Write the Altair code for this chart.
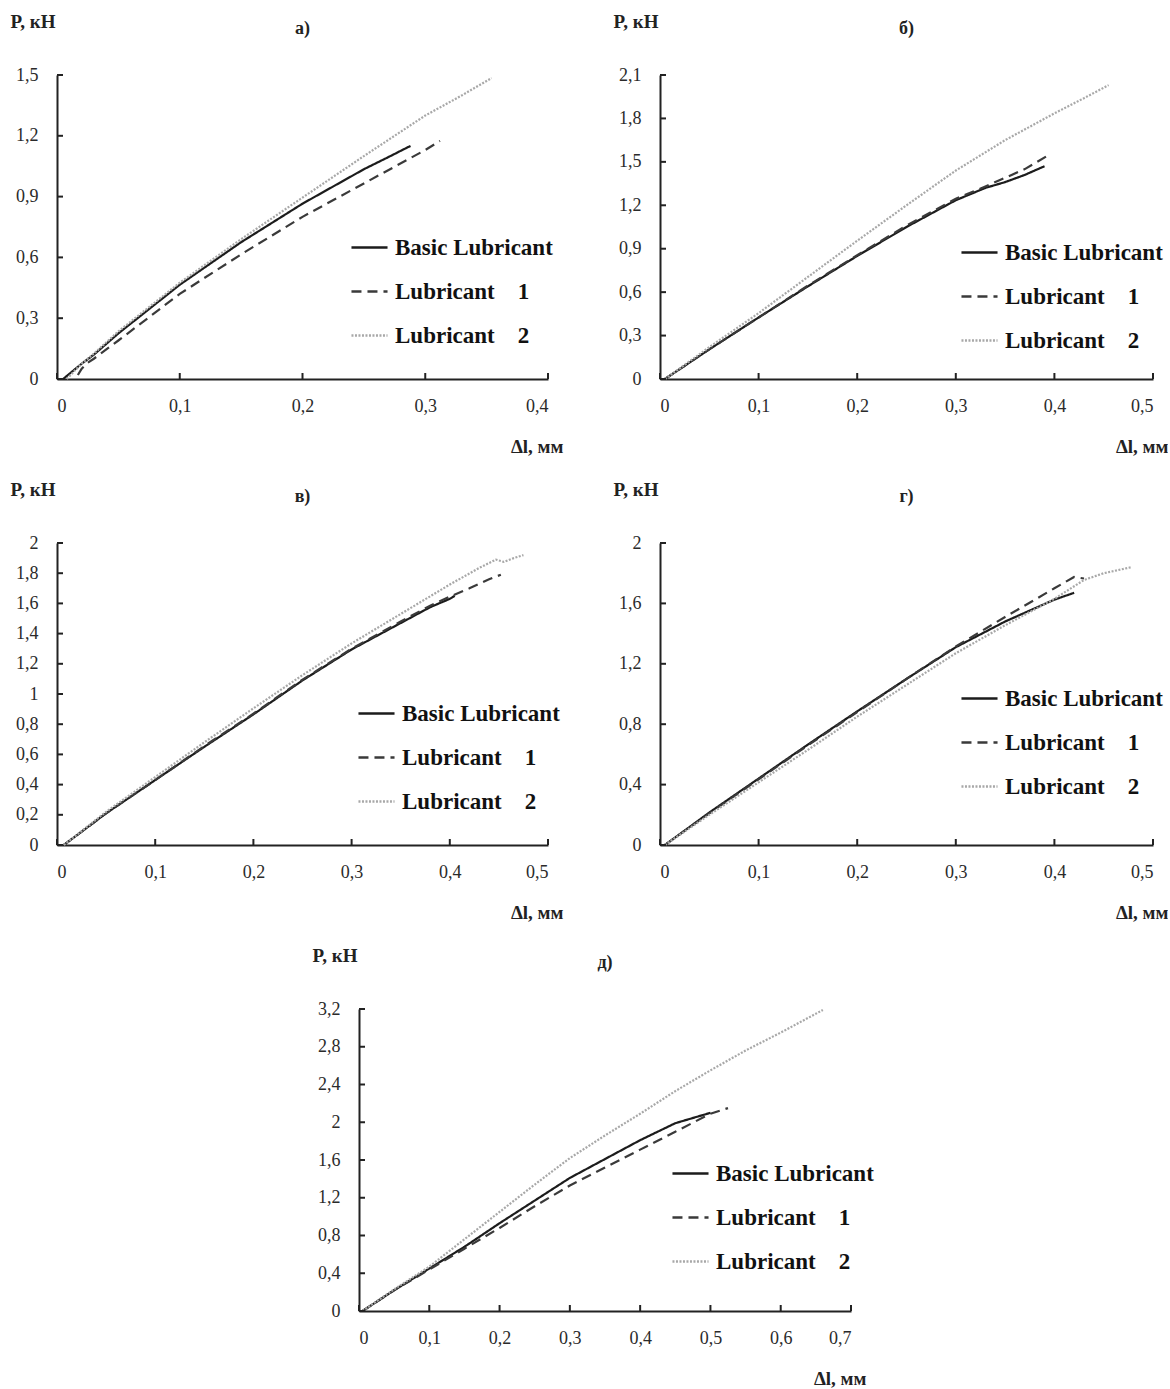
import altair as alt
import pandas as pd

NB = "\u00a0"
SERIES = ["Basic Lubricant", "Lubricant" + NB * 4 + "1", "Lubricant" + NB * 4 + "2"]
PANEL_TITLES = ["а)", "б)", "в)", "г)", "д)"]
Y_TITLE = "P, кН"
X_TITLE = "Δl, мм"

# ---- panel а)
A_BASIC_X = [0.005, 0.012, 0.02, 0.03, 0.05, 0.1, 0.15, 0.2, 0.25, 0.27, 0.283, 0.288]
A_BASIC_Y = [0.0, 0.035, 0.075, 0.12, 0.225, 0.465, 0.675, 0.865, 1.035, 1.095, 1.135, 1.15]
A_L1_X = [0.017, 0.02, 0.025, 0.03, 0.05, 0.1, 0.15, 0.2, 0.25, 0.3, 0.312]
A_L1_Y = [0.02, 0.05, 0.08, 0.1, 0.19, 0.42, 0.615, 0.8, 0.965, 1.13, 1.175]
A_L2_X = [0.008, 0.015, 0.02, 0.03, 0.05, 0.1, 0.15, 0.2, 0.25, 0.3, 0.33, 0.354]
A_L2_Y = [0.0, 0.045, 0.075, 0.125, 0.235, 0.475, 0.69, 0.895, 1.1, 1.3, 1.4, 1.485]
A_XTICKS = [0, 0.1, 0.2, 0.3, 0.4]
A_YTICKS = [0, 0.3, 0.6, 0.9, 1.2, 1.5]

# ---- panel б)
B_BASIC_X = [0.005, 0.05, 0.1, 0.15, 0.2, 0.25, 0.3, 0.33, 0.35, 0.37, 0.39]
B_BASIC_Y = [0.0, 0.205, 0.425, 0.64, 0.85, 1.05, 1.235, 1.32, 1.36, 1.41, 1.47]
B_L1_X = [0.005, 0.05, 0.1, 0.15, 0.2, 0.25, 0.3, 0.33, 0.35, 0.37, 0.395]
B_L1_Y = [0.0, 0.205, 0.425, 0.645, 0.855, 1.06, 1.245, 1.33, 1.39, 1.45, 1.55]
B_L2_X = [0.005, 0.05, 0.1, 0.15, 0.2, 0.25, 0.3, 0.35, 0.4, 0.43, 0.455]
B_L2_Y = [0.0, 0.22, 0.455, 0.705, 0.955, 1.2, 1.44, 1.65, 1.835, 1.94, 2.03]
B_XTICKS = [0, 0.1, 0.2, 0.3, 0.4, 0.5]
B_YTICKS = [0, 0.3, 0.6, 0.9, 1.2, 1.5, 1.8, 2.1]

# ---- panel в)
C_BASIC_X = [0.007, 0.05, 0.1, 0.15, 0.2, 0.25, 0.3, 0.35, 0.38, 0.4, 0.405]
C_BASIC_Y = [0.0, 0.21, 0.43, 0.65, 0.865, 1.09, 1.295, 1.47, 1.575, 1.63, 1.65]
C_L1_X = [0.007, 0.05, 0.1, 0.15, 0.2, 0.25, 0.3, 0.35, 0.38, 0.4, 0.42, 0.44, 0.452]
C_L1_Y = [0.0, 0.21, 0.43, 0.655, 0.87, 1.095, 1.3, 1.48, 1.585, 1.645, 1.7, 1.76, 1.79]
C_L2_X = [0.007, 0.05, 0.1, 0.15, 0.2, 0.25, 0.3, 0.35, 0.4, 0.43, 0.447, 0.455, 0.465, 0.475]
C_L2_Y = [0.0, 0.22, 0.45, 0.68, 0.905, 1.125, 1.335, 1.53, 1.725, 1.835, 1.89, 1.875, 1.9, 1.92]
C_XTICKS = [0, 0.1, 0.2, 0.3, 0.4, 0.5]
C_YTICKS = [0, 0.2, 0.4, 0.6, 0.8, 1, 1.2, 1.4, 1.6, 1.8, 2]

# ---- panel г)
D_BASIC_X = [0.005, 0.05, 0.1, 0.15, 0.2, 0.25, 0.3, 0.35, 0.4, 0.42]
D_BASIC_Y = [0.0, 0.215, 0.44, 0.665, 0.885, 1.1, 1.31, 1.48, 1.625, 1.67]
D_L1_X = [0.005, 0.05, 0.1, 0.15, 0.2, 0.25, 0.3, 0.35, 0.4, 0.42, 0.43]
D_L1_Y = [0.0, 0.21, 0.435, 0.66, 0.88, 1.1, 1.315, 1.51, 1.7, 1.775, 1.765]
D_L2_X = [0.005, 0.05, 0.1, 0.15, 0.2, 0.25, 0.3, 0.35, 0.4, 0.43, 0.45, 0.478]
D_L2_Y = [0.0, 0.2, 0.415, 0.63, 0.85, 1.06, 1.27, 1.455, 1.63, 1.755, 1.8, 1.84]
D_XTICKS = [0, 0.1, 0.2, 0.3, 0.4, 0.5]
D_YTICKS = [0, 0.4, 0.8, 1.2, 1.6, 2]

# ---- panel д)
E_BASIC_X = [0.005, 0.05, 0.1, 0.15, 0.2, 0.25, 0.3, 0.35, 0.4, 0.45, 0.5]
E_BASIC_Y = [0.0, 0.22, 0.45, 0.68, 0.93, 1.17, 1.41, 1.61, 1.81, 1.99, 2.1]
E_L1_X = [0.005, 0.05, 0.1, 0.15, 0.2, 0.25, 0.3, 0.35, 0.4, 0.45, 0.5, 0.525]
E_L1_Y = [0.0, 0.22, 0.44, 0.66, 0.88, 1.11, 1.33, 1.52, 1.71, 1.9, 2.09, 2.15]
E_L2_X = [0.005, 0.05, 0.1, 0.15, 0.2, 0.25, 0.3, 0.35, 0.4, 0.45, 0.5, 0.55, 0.6, 0.66]
E_L2_Y = [0.0, 0.23, 0.47, 0.76, 1.05, 1.34, 1.62, 1.86, 2.09, 2.33, 2.55, 2.76, 2.95, 3.19]
E_XTICKS = [0, 0.1, 0.2, 0.3, 0.4, 0.5, 0.6, 0.7]
E_YTICKS = [0, 0.4, 0.8, 1.2, 1.6, 2, 2.4, 2.8, 3.2]

FONT = "Liberation Serif"
LABEL_EXPR = "replace(format(datum.value, '.3~r'), '.', ',')"


def long_df(xs_list, ys_list):
    rows = []
    for name, xs, ys in zip(SERIES, xs_list, ys_list):
        for i, (x, y) in enumerate(zip(xs, ys)):
            rows.append({"series": name, "x": x, "y": y, "i": i})
    return pd.DataFrame(rows)


def panel(title, xs_list, ys_list, xticks, yticks, w, h, lx, ly):
    df = long_df(xs_list, ys_list)
    xscale = alt.Scale(domain=[xticks[0], xticks[-1]], nice=False, zero=True)
    yscale = alt.Scale(domain=[yticks[0], yticks[-1]], nice=False, zero=True)
    xaxis = alt.Axis(values=xticks, labelExpr=LABEL_EXPR, ticks=False, grid=False,
                     domainColor="#222", domainWidth=2, labelPadding=18,
                     labelFont=FONT, labelFontSize=18, labelColor="#2a2a2a",
                     title=X_TITLE, titleFont=FONT, titleFontSize=19, titleFontWeight="bold",
                     titleColor="#222", titleAngle=0, titleAlign="right",
                     titleBaseline="alphabetic", titleX=w + 15, titleY=73)
    yaxis = alt.Axis(values=yticks, labelExpr=LABEL_EXPR, ticks=False, grid=False,
                     domainColor="#222", domainWidth=2, labelPadding=19,
                     labelFont=FONT, labelFontSize=18, labelColor="#2a2a2a",
                     title=Y_TITLE, titleFont=FONT, titleFontSize=19, titleFontWeight="bold",
                     titleColor="#222", titleAngle=0, titleAlign="left",
                     titleBaseline="alphabetic", titleX=-47, titleY=-48)
    x_enc = alt.X("x:Q", scale=xscale, axis=xaxis)
    y_enc = alt.Y("y:Q", scale=yscale, axis=yaxis)

    legend = alt.Legend(title=None, orient="none", legendX=lx, legendY=ly,
                        symbolType="stroke", symbolSize=1300, symbolStrokeWidth=2.5,
                        labelFont=FONT, labelFontSize=23, labelFontWeight="bold",
                        labelColor="#111", rowPadding=12, labelOffset=6, labelLimit=400)
    lines = alt.Chart(df).mark_line(strokeWidth=2.2).encode(
        x=x_enc, y=y_enc,
        color=alt.Color("series:N", scale=alt.Scale(domain=SERIES, range=["#1c1c1c", "#3a3a3a", "#a8a8a8"]),
                        legend=legend),
        strokeDash=alt.StrokeDash("series:N", scale=alt.Scale(domain=SERIES, range=[[1, 0], [10, 6], [2, 1.5]]),
                                  legend=legend),
        detail="series:N",
        order="i:Q",
    )
    xt = alt.Chart(pd.DataFrame({"x": xticks})).mark_rule(color="#222", strokeWidth=2).encode(
        x=x_enc, y=alt.value(h), y2=alt.value(h - 6))
    yt = alt.Chart(pd.DataFrame({"y": yticks})).mark_rule(color="#222", strokeWidth=2).encode(
        y=y_enc, x=alt.value(0), x2=alt.value(6))
    return alt.layer(lines, xt, yt).properties(
        width=w, height=h,
        title=alt.TitleParams(title, font=FONT, fontSize=18, fontWeight="bold", color="#222",
                              anchor="middle", offset=0, dy=26),
    ).resolve_scale(color="independent", strokeDash="independent")


pa = panel(PANEL_TITLES[0], [A_BASIC_X, A_L1_X, A_L2_X], [A_BASIC_Y, A_L1_Y, A_L2_Y],
           A_XTICKS, A_YTICKS, 491, 304, 293, 153)
pb = panel(PANEL_TITLES[1], [B_BASIC_X, B_L1_X, B_L2_X], [B_BASIC_Y, B_L1_Y, B_L2_Y],
           B_XTICKS, B_YTICKS, 493, 304, 300, 158)
pc = panel(PANEL_TITLES[2], [C_BASIC_X, C_L1_X, C_L2_X], [C_BASIC_Y, C_L1_Y, C_L2_Y],
           C_XTICKS, C_YTICKS, 491, 302, 300, 151)
pd_ = panel(PANEL_TITLES[3], [D_BASIC_X, D_L1_X, D_L2_X], [D_BASIC_Y, D_L1_Y, D_L2_Y],
            D_XTICKS, D_YTICKS, 493, 302, 300, 136)
pe = panel(PANEL_TITLES[4], [E_BASIC_X, E_L1_X, E_L2_X], [E_BASIC_Y, E_L1_Y, E_L2_Y],
           E_XTICKS, E_YTICKS, 492, 302, 312, 145)

spacer = alt.Chart(pd.DataFrame({"x": [0]})).mark_point(opacity=0).encode(
    x=alt.X("x:Q", axis=None), y=alt.Y("x:Q", axis=None)).properties(width=255, height=10)

row1 = alt.hconcat(pa, pb, spacing=50).resolve_scale(color="independent", strokeDash="independent").resolve_legend(color="independent", strokeDash="independent")
row2 = alt.hconcat(pc, pd_, spacing=50).resolve_scale(color="independent", strokeDash="independent").resolve_legend(color="independent", strokeDash="independent")
row3 = alt.hconcat(spacer, pe, spacing=0).resolve_scale(color="independent", strokeDash="independent").resolve_legend(color="independent", strokeDash="independent")

chart = alt.vconcat(row1, row2, row3, spacing=24).resolve_scale(
    color="independent", strokeDash="independent").resolve_legend(
    color="independent", strokeDash="independent").properties(
    padding={"left": 10, "top": 12, "right": 0, "bottom": 0}, background="white"
).configure_view(stroke=None)

chart.save("out.html", embed_options={"renderer": "svg", "actions": False})
